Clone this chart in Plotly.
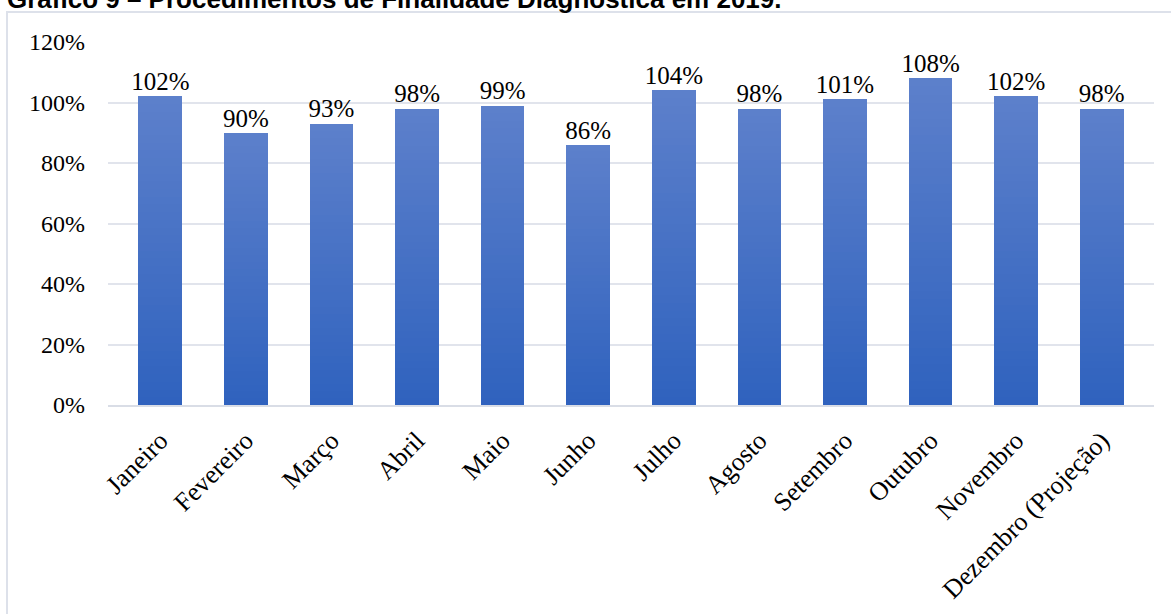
import plotly.graph_objects as go

# Monthly values (%) for diagnostic procedures, 2019
meses = ["Janeiro", "Fevereiro", "Março", "Abril", "Maio", "Junho", "Julho",
         "Agosto", "Setembro", "Outubro", "Novembro", "Dezembro (Projeção)"]
valores = [102, 90, 93, 98, 99, 86, 104, 98, 101, 108, 102, 98]
ticks_y = [0, 20, 40, 60, 80, 100, 120]
tick_text_y = ["0%", "20%", "40%", "60%", "80%", "100%", "120%"]

W, H = 1171, 614
ML, MR, MT, MB = 108, 17, 42, 209
plot_w = W - ML - MR
plot_h = H - MT - MB

SERIF = "Liberation Serif"
SANS = "Liberation Sans"

cor_base = (47, 98, 190)   # bottom of each bar
cor_topo = (93, 128, 203)  # top of each bar
N = 40

fig = go.Figure()

# vertical gradient inside each bar, built from stacked slices of the value
for k in range(N):
    t = (k + 0.5) / N
    c = tuple(round(cor_base[i] + (cor_topo[i] - cor_base[i]) * t) for i in range(3))
    fig.add_trace(go.Bar(
        x=meses,
        y=[v / N for v in valores],
        marker=dict(color="rgb(%d,%d,%d)" % c, line=dict(width=0)),
        hoverinfo="skip",
        showlegend=False,
    ))

# value labels above the bars
fig.add_trace(go.Scatter(
    x=meses,
    y=valores,
    mode="text",
    text=[f"{v}%" for v in valores],
    textposition="top center",
    textfont=dict(family=SERIF, size=25, color="#000000"),
    showlegend=False,
    hoverinfo="skip",
    cliponaxis=False,
))

fig.update_layout(
    width=W, height=H,
    margin=dict(l=ML, r=MR, t=MT, b=MB),
    barmode="stack",
    bargap=0.49,
    plot_bgcolor="white",
    paper_bgcolor="white",
    font=dict(family=SERIF, size=24, color="#000000"),
    xaxis=dict(
        tickangle=-45,
        showgrid=False,
        showline=True,
        linecolor="#d9dde6",
        linewidth=2,
        ticks="",
        ticklabelstandoff=8,
        tickfont=dict(family=SERIF, size=26),
        automargin=False,
    ),
    yaxis=dict(
        range=[0, 120],
        tickvals=ticks_y,
        ticktext=tick_text_y,
        showgrid=True,
        gridcolor="#e1e4ec",
        gridwidth=2,
        zeroline=False,
        showline=False,
        ticks="",
        ticklabelstandoff=22,
        tickfont=dict(family=SERIF, size=24),
        automargin=False,
    ),
    shapes=[
        dict(
            type="rect", xref="paper", yref="paper",
            x0=(7 - ML) / plot_w, x1=(W + 20 - ML) / plot_w,
            y0=-(MB + 20) / plot_h, y1=(H - MB - 12) / plot_h,
            line=dict(color="#dde1ea", width=2),
            fillcolor="rgba(0,0,0,0)",
            layer="below",
        )
    ],
    annotations=[
        dict(
            text="<b>Gráfico 9 – Procedimentos de Finalidade Diagnóstica em 2019.</b>",
            xref="paper", yref="paper",
            x=(5 - ML) / plot_w, xanchor="left",
            y=(H - MB - 16) / plot_h, yanchor="bottom",
            showarrow=False,
            font=dict(family=SANS, size=26, color="#000000"),
        )
    ],
)

fig.write_html("out.html")
